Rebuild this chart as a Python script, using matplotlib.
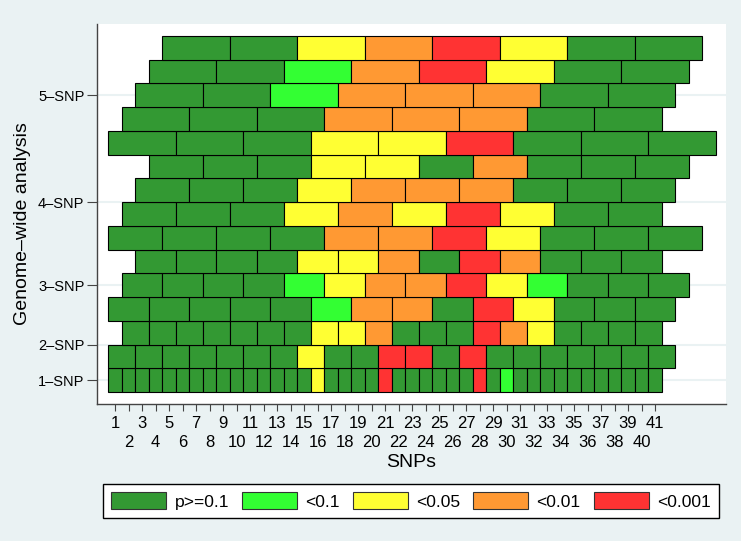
import matplotlib.pyplot as plt
from matplotlib.patches import Patch

plt.rcParams["font.family"] = ["Liberation Sans", "DejaVu Sans"]

# p-value class of each window: 0 p>=0.1, 1 <0.1, 2 <0.05, 3 <0.01, 4 <0.001
snp1 = [0, 0, 0, 0, 0, 0, 0, 0, 0, 0, 0, 0, 0, 0, 0, 2, 0, 0, 0, 0, 4,
        0, 0, 0, 0, 0, 0, 4, 0, 1, 0, 0, 0, 0, 0, 0, 0, 0, 0, 0, 0]
snp2 = [
    [0, 0, 0, 0, 0, 0, 0, 2, 0, 0, 4, 4, 0, 4, 0, 0, 0, 0, 0, 0, 0],
    [0, 0, 0, 0, 0, 0, 0, 2, 2, 3, 0, 0, 0, 4, 3, 2, 0, 0, 0, 0],
]
snp3 = [
    [0, 0, 0, 0, 0, 1, 3, 3, 0, 4, 2, 0, 0, 0],
    [0, 0, 0, 0, 1, 2, 3, 3, 4, 2, 1, 0, 0, 0],
    [0, 0, 0, 0, 2, 2, 3, 0, 4, 3, 0, 0, 0],
]
snp4 = [
    [0, 0, 0, 0, 3, 3, 4, 2, 0, 0, 0],
    [0, 0, 0, 2, 3, 2, 4, 2, 0, 0],
    [0, 0, 0, 2, 3, 3, 3, 0, 0, 0],
    [0, 0, 0, 2, 2, 0, 3, 0, 0, 0],
]
snp5 = [
    [0, 0, 0, 2, 2, 4, 0, 0, 0],
    [0, 0, 0, 3, 3, 3, 0, 0],
    [0, 0, 1, 3, 3, 3, 0, 0],
    [0, 0, 1, 3, 4, 2, 0, 0],
    [0, 0, 2, 3, 4, 2, 0, 0],
]

n_snps = 41
classes = ["p>=0.1", "<0.1", "<0.05", "<0.01", "<0.001"]
class_colors = ["#339933", "#33FF33", "#FFFF33", "#FF9933", "#FF3333"]
row_labels = ["1–SNP", "2–SNP", "3–SNP", "4–SNP", "5–SNP"]

bg = "#EAF2F3"
fig = plt.figure(figsize=(7.41, 5.41), dpi=100, facecolor=bg)
ax = fig.add_axes([97 / 741, 137 / 541, 629 / 741, 380 / 541])

windows = [[snp1], snp2, snp3, snp4, snp5]
row = 0
group_centers = []
for size, offsets in enumerate(windows, start=1):
    group_centers.append(row + (len(offsets) - 1) / 2)
    for offset, pvals in enumerate(offsets):
        lefts = [0.5 + offset + size * k for k in range(len(pvals))]
        ax.barh(row, size, left=lefts, height=1,
                color=[class_colors[c] for c in pvals],
                edgecolor="black", linewidth=0.8, zorder=3)
        row += 1

ax.set_xlim(-0.34, 46.26)
ax.set_ylim(-1, 15)

# odd labels on the first line, even ones on a second line
ax.set_xticks(range(1, n_snps + 1, 2))
ax.set_xticklabels([str(i) for i in range(1, n_snps + 1, 2)])
ax.set_xticks(range(2, n_snps + 1, 2), minor=True)
ax.set_xticklabels([str(i) for i in range(2, n_snps + 1, 2)], minor=True)
ax.tick_params(axis="x", which="both", length=5, width=0.8, color="#444444",
               labelsize=12, pad=4)
ax.tick_params(axis="x", which="minor", pad=17)

ax.set_yticks(group_centers)
ax.set_yticklabels(row_labels)
ax.tick_params(axis="y", length=7, width=0.8, color="#444444",
               labelsize=10.5, pad=2)
ax.yaxis.grid(True, color=bg, linewidth=1.5)
ax.set_axisbelow(True)

for side in ["top", "right"]:
    ax.spines[side].set_visible(False)
for side in ["left", "bottom"]:
    ax.spines[side].set_color("#444444")
    ax.spines[side].set_linewidth(1)

ax.set_xlabel("SNPs", fontsize=14)
ax.xaxis.set_label_coords(0.5, -0.1316)
fig.text(22.5 / 741, 1 - 224 / 541, "Genome–wide analysis", rotation=90,
         ha="center", va="center", fontsize=14)

handles = [Patch(facecolor=c, edgecolor="#333333", linewidth=0.8, label=l)
           for c, l in zip(class_colors, classes)]
leg = fig.legend(handles=handles, loc="center",
                 bbox_to_anchor=(411 / 741, 1 - 501 / 541), ncol=5,
                 fancybox=False, edgecolor="black", framealpha=1,
                 fontsize=12.6, handlelength=3.14, handleheight=1.1,
                 handletextpad=0.47, columnspacing=0.75, borderpad=0.45)
leg.get_frame().set_linewidth(1)

fig.savefig("out.png", dpi=100, facecolor=bg)
